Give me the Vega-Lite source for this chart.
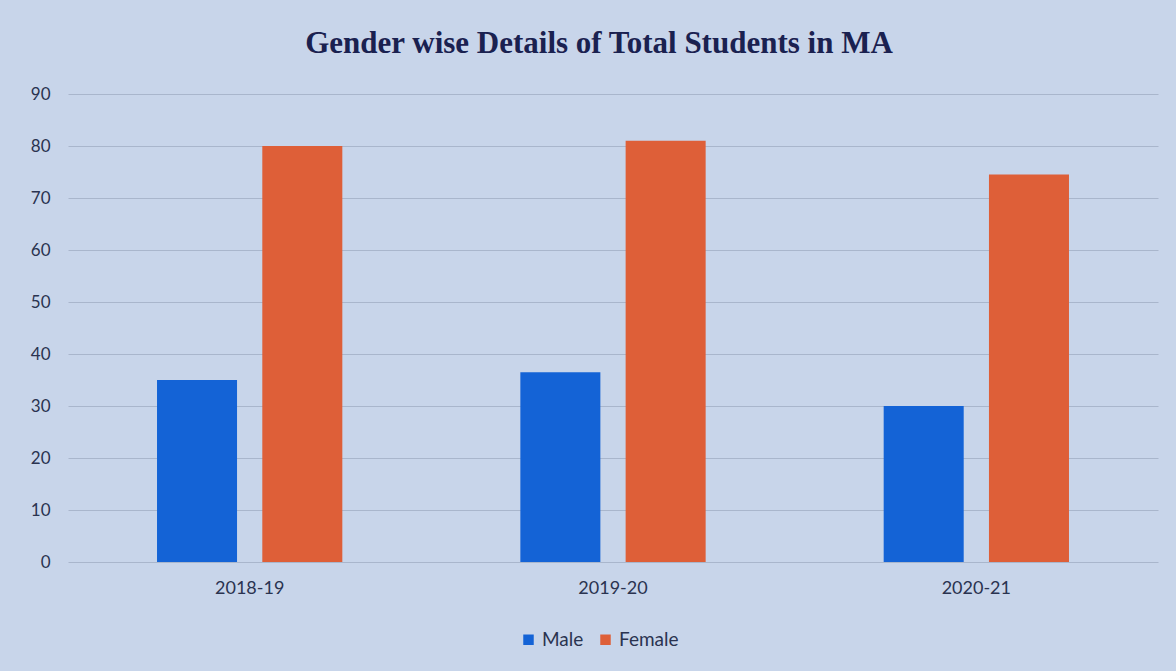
{
  "$schema": "https://vega.github.io/schema/vega-lite/v6.json",
  "width": 1090,
  "height": 468,
  "autosize": {"type": "none"},
  "padding": {"left": 68, "top": 94, "right": 18, "bottom": 109},
  "background": "#c8d5ea",
  "title": {
    "text": "Gender wise Details of Total Students in MA",
    "font": "Liberation Serif",
    "fontSize": 31,
    "fontWeight": "bold",
    "color": "#1a2150",
    "offset": 25,
    "dx": -14
  },
  "data": {
    "values": [
      {"year": "2018-19", "gender": "Male", "students": 35},
      {"year": "2018-19", "gender": "Female", "students": 80},
      {"year": "2019-20", "gender": "Male", "students": 36.5},
      {"year": "2019-20", "gender": "Female", "students": 81},
      {"year": "2020-21", "gender": "Male", "students": 30},
      {"year": "2020-21", "gender": "Female", "students": 74.5}
    ]
  },
  "mark": {"type": "bar"},
  "encoding": {
    "x": {
      "field": "year",
      "type": "nominal",
      "scale": {"paddingInner": 0.49, "paddingOuter": 0.245},
      "axis": {
        "title": null,
        "labelAngle": 0,
        "labelFont": "Lato",
        "labelFontSize": 18,
        "labelColor": "#2a3350",
        "labelPadding": 17,
        "ticks": false,
        "domain": false,
        "grid": false
      }
    },
    "xOffset": {
      "field": "gender",
      "type": "nominal",
      "sort": ["Male", "Female"],
      "scale": {"paddingInner": 0.24}
    },
    "y": {
      "field": "students",
      "type": "quantitative",
      "scale": {"domain": [0, 90]},
      "axis": {
        "title": null,
        "values": [0, 10, 20, 30, 40, 50, 60, 70, 80, 90],
        "labelFont": "Lato",
        "labelFontSize": 17,
        "labelColor": "#2a3350",
        "labelPadding": 18,
        "ticks": false,
        "domain": false,
        "gridColor": "#a9b6cc",
        "gridWidth": 1.2
      }
    },
    "color": {
      "field": "gender",
      "type": "nominal",
      "sort": ["Male", "Female"],
      "scale": {"domain": ["Male", "Female"], "range": ["#1463d6", "#de5f38"]},
      "legend": {
        "title": null,
        "orient": "none",
        "legendX": 451,
        "legendY": 536,
        "direction": "horizontal",
        "symbolType": "square",
        "symbolSize": 110,
        "symbolStrokeWidth": 0,
        "labelFont": "Lato",
        "labelFontSize": 19,
        "labelColor": "#2a3350",
        "columnPadding": 12
      }
    }
  },
  "config": {"view": {"stroke": null}}
}
